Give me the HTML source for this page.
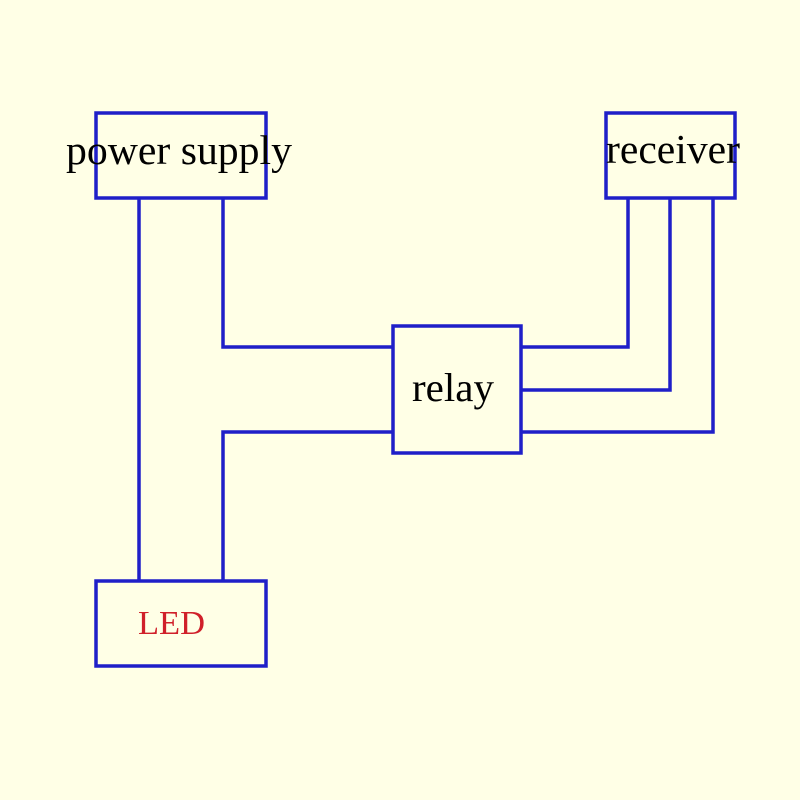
<!DOCTYPE html>
<html><head><meta charset="utf-8"><style>
html,body{margin:0;padding:0;background:#FFFFE6;}
</style></head><body>
<svg width="800" height="800" xmlns="http://www.w3.org/2000/svg" style="display:block">
<rect width="800" height="800" fill="#FFFFE6"/>
<g fill="none" stroke="#1F1FC8" stroke-width="3.5">
<rect x="96" y="113" width="170" height="85"/>
<rect x="606" y="113" width="129" height="85"/>
<rect x="393" y="326" width="128" height="127"/>
<rect x="96" y="581" width="170" height="85"/>
<line x1="139" y1="198" x2="139" y2="581"/>
<polyline points="223,198 223,347 393,347"/>
<polyline points="223,581 223,432 393,432"/>
<polyline points="521,347 628,347 628,198"/>
<polyline points="521,390 670,390 670,198"/>
<polyline points="521,432 713,432 713,198"/>
</g>
<g font-family="Liberation Serif, serif" fill="#000">
<text x="66" y="164" font-size="41" textLength="226" lengthAdjust="spacingAndGlyphs">power supply</text>
<text x="606" y="163" font-size="41" textLength="134" lengthAdjust="spacingAndGlyphs">receiver</text>
<text x="412" y="401" font-size="40" textLength="82" lengthAdjust="spacingAndGlyphs">relay</text>
<text x="138" y="634" font-size="34" fill="#D0202A" textLength="67" lengthAdjust="spacingAndGlyphs">LED</text>
</g>
</svg>
</body></html>
